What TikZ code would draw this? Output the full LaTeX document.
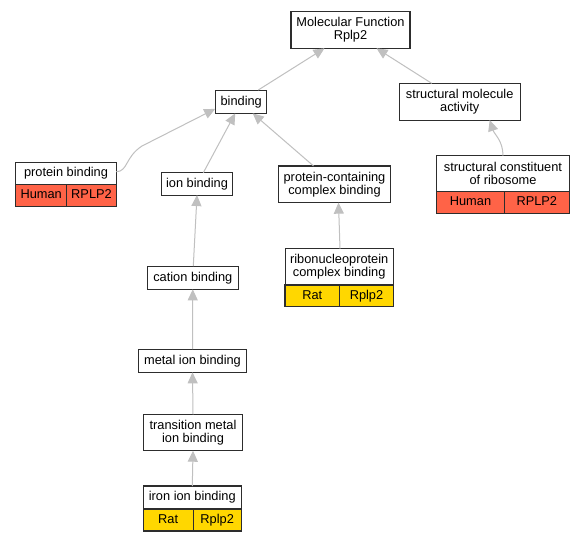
\documentclass[tikz,border=0pt]{standalone}
\usepackage{fontspec}
\setmainfont{Liberation Sans}
\usetikzlibrary{arrows.meta}
\definecolor{edgecol}{RGB}{192,192,192}
\definecolor{bordercol}{RGB}{45,45,45}
\definecolor{humancol}{RGB}{255,99,71}
\definecolor{ratcol}{RGB}{255,215,0}
\begin{document}
\begin{tikzpicture}[x=1pt,y=-1pt,
  every node/.style={font=\fontsize{12.8}{13.2}\selectfont, inner sep=0pt, outer sep=0pt},
  box/.style={draw=bordercol, line width=1.1pt, fill=white, align=center},
  one/.style={text height=9.2pt, text depth=2.6pt},
  human/.style={box, one, fill=humancol},
  rat/.style={box, one, fill=ratcol},
  edge/.style={draw=edgecol, line width=1pt, -{Triangle[length=11pt,width=10pt]}}]
\fill[white] (0,0) rectangle (585,541);
\useasboundingbox (0,0) rectangle (585,541);

% terms
\node[box, minimum width=119pt, minimum height=36.6pt] (mf) at (350.5,30) {Molecular Function\\Rplp2};
\node[box, one, minimum width=51pt, minimum height=23.3pt] (bind) at (241.2,101.7) {binding};
\node[box, minimum width=120.7pt, minimum height=36.7pt] (sma) at (459.7,101.7) {structural molecule\\activity};

\node[box, one, minimum width=100.6pt, minimum height=22pt] (pbt) at (66,173.3) {protein binding};
\node[human, minimum width=51pt, minimum height=22.4pt] (pbh) at (41.2,195.5) {Human};
\node[human, minimum width=49.6pt, minimum height=22.4pt] (pbg) at (91.5,195.5) {RPLP2};

\node[box, one, minimum width=71.7pt, minimum height=22.3pt] (ion) at (197,183.9) {ion binding};
\node[box, minimum width=112.4pt, minimum height=36.7pt] (pcc) at (334.5,184.3) {protein-containing\\complex binding};

\node[box, minimum width=132.6pt, minimum height=36pt] (sct) at (503,173.7) {structural constituent\\of ribosome};
\node[human, minimum width=67.6pt, minimum height=21.6pt] (sch) at (470.5,202.5) {Human};
\node[human, minimum width=65pt, minimum height=21.6pt] (scg) at (536.8,202.5) {RPLP2};

\node[box, one, minimum width=91pt, minimum height=23.3pt] (cat) at (192.8,277.7) {cation binding};

\node[box, minimum width=108.3pt, minimum height=36.3pt] (rnpt) at (339.2,266.8) {ribonucleoprotein\\complex binding};
\node[rat, minimum width=54.7pt, minimum height=21.7pt] (rnpr) at (312.3,295.8) {Rat};
\node[rat, minimum width=53.6pt, minimum height=21.7pt] (rnpg) at (366.5,295.8) {Rplp2};

\node[box, one, minimum width=108.4pt, minimum height=23.3pt] (metal) at (192.5,360.7) {metal ion binding};
\node[box, minimum width=99.4pt, minimum height=36.4pt] (tm) at (193,432.5) {transition metal\\ion binding};

\node[box, one, minimum width=98pt, minimum height=23pt] (iront) at (192.3,497.5) {iron ion binding};
\node[rat, minimum width=49.7pt, minimum height=22pt] (ironr) at (168.2,520) {Rat};
\node[rat, minimum width=48.3pt, minimum height=22pt] (irong) at (217.2,520) {Rplp2};

% connectors
\draw[edge] ([xshift=17pt]bind.north) -- ([xshift=-26pt]mf.south);
\draw[edge] ([xshift=-28pt]sma.north) -- ([xshift=26pt]mf.south);
\draw[edge] (sct.north) to[out=90,in=-72] ([xshift=30pt]sma.south);
\draw[edge] ([yshift=1.6pt]pbt.east) .. controls (128,171.5) and (125,157) .. (142,146) -- ([xshift=-26pt,yshift=4.5pt]bind.south);
\draw[edge] ([xshift=6.3pt]ion.north) -- ([xshift=-6pt]bind.south);
\draw[edge] ([xshift=-21pt]pcc.north) -- ([xshift=11.5pt]bind.south);
\draw[edge] ([xshift=0.5pt]cat.north) -- (ion.south);
\draw[edge] (metal.north) -- (cat.south);
\draw[edge] (tm.north) -- (metal.south);
\draw[edge] (iront.north) -- (tm.south);
\draw[edge] ([xshift=0.8pt]rnpt.north) -- ([xshift=4pt]pcc.south);
\end{tikzpicture}
\end{document}
